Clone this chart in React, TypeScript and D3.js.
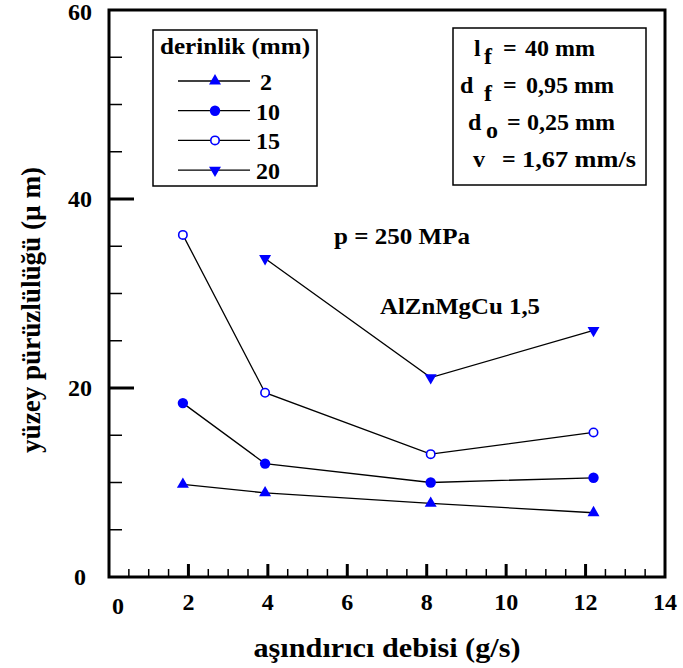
import React from "react";
import * as d3 from "d3";

const flowRates = [1.86, 3.93, 8.1, 12.2];
const depths = ["2", "10", "15", "20"];
const seriesDepth2 = [9.8, 8.9, 7.8, 6.8];
const seriesDepth10 = [18.4, 12.0, 10.0, 10.5];
const seriesDepth15 = [36.2, 19.5, 13.0, 15.3];
const seriesDepth20: (number | null)[] = [null, 33.7, 21.1, 26.1];
const xTickLabels = [0, 2, 4, 6, 8, 10, 12, 14];
const yTickLabels = [0, 20, 40, 60];

const W = 683;
const H = 668;
const FONT = "'Liberation Serif', Tinos, 'DejaVu Serif', 'Noto Serif', FreeSerif, serif";
const BLUE = "#0000ff";

const x = d3.scaleLinear().domain([0, 14]).range([109, 665]);
const y = d3.scaleLinear().domain([0, 60]).range([577, 10]);

type MarkerKind = "triUp" | "dot" | "ring" | "triDown";
const markerKinds: MarkerKind[] = ["triUp", "dot", "ring", "triDown"];
const allSeries = [seriesDepth2, seriesDepth10, seriesDepth15, seriesDepth20];

function Marker({ kind, cx, cy }: { kind: MarkerKind; cx: number; cy: number }) {
  if (kind === "dot") return <circle cx={cx} cy={cy} r={5.2} fill={BLUE} />;
  if (kind === "ring")
    return <circle cx={cx} cy={cy} r={4.2} fill="white" stroke={BLUE} strokeWidth={1.6} />;
  const sym = d3.symbol().type(d3.symbolTriangle).size(62)();
  const rot = kind === "triDown" ? 180 : 0;
  return <path d={sym || ""} transform={`translate(${cx},${cy}) rotate(${rot})`} fill={BLUE} />;
}

function T(props: any) {
  return <text fontFamily={FONT} fontWeight="bold" {...props} />;
}

export default function App() {
  const line = d3
    .line<[number, number | null]>()
    .defined((d) => d[1] !== null)
    .x((d) => x(d[0]))
    .y((d) => y(d[1] as number));

  const yMinor = d3.range(5, 60, 5);
  const xMinor = d3.range(0.5, 14, 0.5);

  return (
    <svg width={W} height={H} style={{ position: "absolute", left: 0, top: 0, background: "white" }}>
      <rect width={W} height={H} fill="white" />
      {yMinor.map((v) => {
        const major = v % 20 === 0;
        return (
          <line
            key={"ym" + v}
            x1={x(0)}
            x2={x(0) + (major ? 25 : 13)}
            y1={y(v)}
            y2={y(v)}
            stroke="black"
            strokeWidth={major ? 3 : 1.5}
          />
        );
      })}
      {xMinor.map((v) => {
        const major = Math.abs(v % 2) < 1e-9;
        return (
          <line
            key={"xm" + v}
            x1={x(v)}
            x2={x(v)}
            y1={y(0)}
            y2={y(0) - (major ? 13 : 8)}
            stroke="black"
            strokeWidth={major ? 3 : 1.5}
          />
        );
      })}
      <rect
        x={x(0)}
        y={y(60)}
        width={x(14) - x(0)}
        height={y(0) - y(60)}
        fill="none"
        stroke="black"
        strokeWidth={3}
      />
      {yTickLabels.map((v) => (
        <T key={"yl" + v} x={80} y={Math.max(y(v) + 8, 20)} fontSize={24} textAnchor="middle">
          {v}
        </T>
      ))}
      {xTickLabels.map((v) => (
        <T
          key={"xl" + v}
          x={x(v) + (v === 0 ? 9 : 0)}
          y={v === 0 ? 614 : 610}
          fontSize={24}
          textAnchor="middle"
        >
          {v}
        </T>
      ))}
      <T x={387} y={657} fontSize={28} textAnchor="middle" textLength={267} lengthAdjust="spacingAndGlyphs">
        aşındırıcı debisi (g/s)
      </T>
      <T
        transform={`translate(40,310) rotate(-90)`}
        fontSize={27}
        textAnchor="middle"
        textLength={286}
        lengthAdjust="spacingAndGlyphs"
      >
        yüzey pürüzlülüğü (µ m)
      </T>
      {allSeries.map((s, i) => (
        <path
          key={"l" + i}
          d={line(flowRates.map((f, j) => [f, s[j]] as [number, number | null])) || ""}
          fill="none"
          stroke="black"
          strokeWidth={1.3}
        />
      ))}
      {allSeries.map((s, i) =>
        s.map((v, j) =>
          v === null ? null : (
            <Marker key={`m${i}-${j}`} kind={markerKinds[i]} cx={x(flowRates[j])} cy={y(v)} />
          )
        )
      )}
      <rect x={153} y={30} width={164} height={156} fill="white" stroke="black" strokeWidth={1.5} />
      <T x={235} y={54} fontSize={24} textAnchor="middle" textLength={150} lengthAdjust="spacingAndGlyphs">
        derinlik (mm)
      </T>
      {depths.map((d, i) => {
        const cy = 81 + i * 29.7;
        return (
          <g key={"lg" + d}>
            <line x1={178} x2={250} y1={cy} y2={cy} stroke="black" strokeWidth={1.3} />
            <Marker kind={markerKinds[i]} cx={215} cy={cy} />
            <T x={i === 0 ? 260 : 256} y={cy + 9} fontSize={24}>
              {d}
            </T>
          </g>
        );
      })}
      <rect x={453} y={28} width={193} height={157} fill="white" stroke="black" strokeWidth={1.5} />
      <T x={474} y={56} fontSize={24}>l</T>
      <T x={484} y={64} fontSize={24}>f</T>
      <T x={503} y={56} fontSize={24}>=</T>
      <T x={525} y={56} fontSize={24}>40 mm</T>

      <T x={460} y={93} fontSize={24}>d</T>
      <T x={484} y={101} fontSize={24}>f</T>
      <T x={503} y={93} fontSize={24}>=</T>
      <T x={526} y={93} fontSize={24}>0,95 mm</T>

      <T x={468} y={130} fontSize={24}>d</T>
      <T x={486} y={138} fontSize={24}>o</T>
      <T x={507} y={130} fontSize={24}>=</T>
      <T x={527} y={130} fontSize={24}>0,25 mm</T>

      <T x={473} y={167} fontSize={24}>v</T>
      <T x={502} y={167} fontSize={24}>=</T>
      <T x={522} y={167} fontSize={24} textLength={114} lengthAdjust="spacingAndGlyphs">1,67 mm/s</T>

      <T x={334} y={244} fontSize={24} textLength={136} lengthAdjust="spacingAndGlyphs">
        p = 250 MPa
      </T>
      <T x={380} y={314} fontSize={24} textLength={160} lengthAdjust="spacingAndGlyphs">
        AlZnMgCu 1,5
      </T>
    </svg>
  );
}
